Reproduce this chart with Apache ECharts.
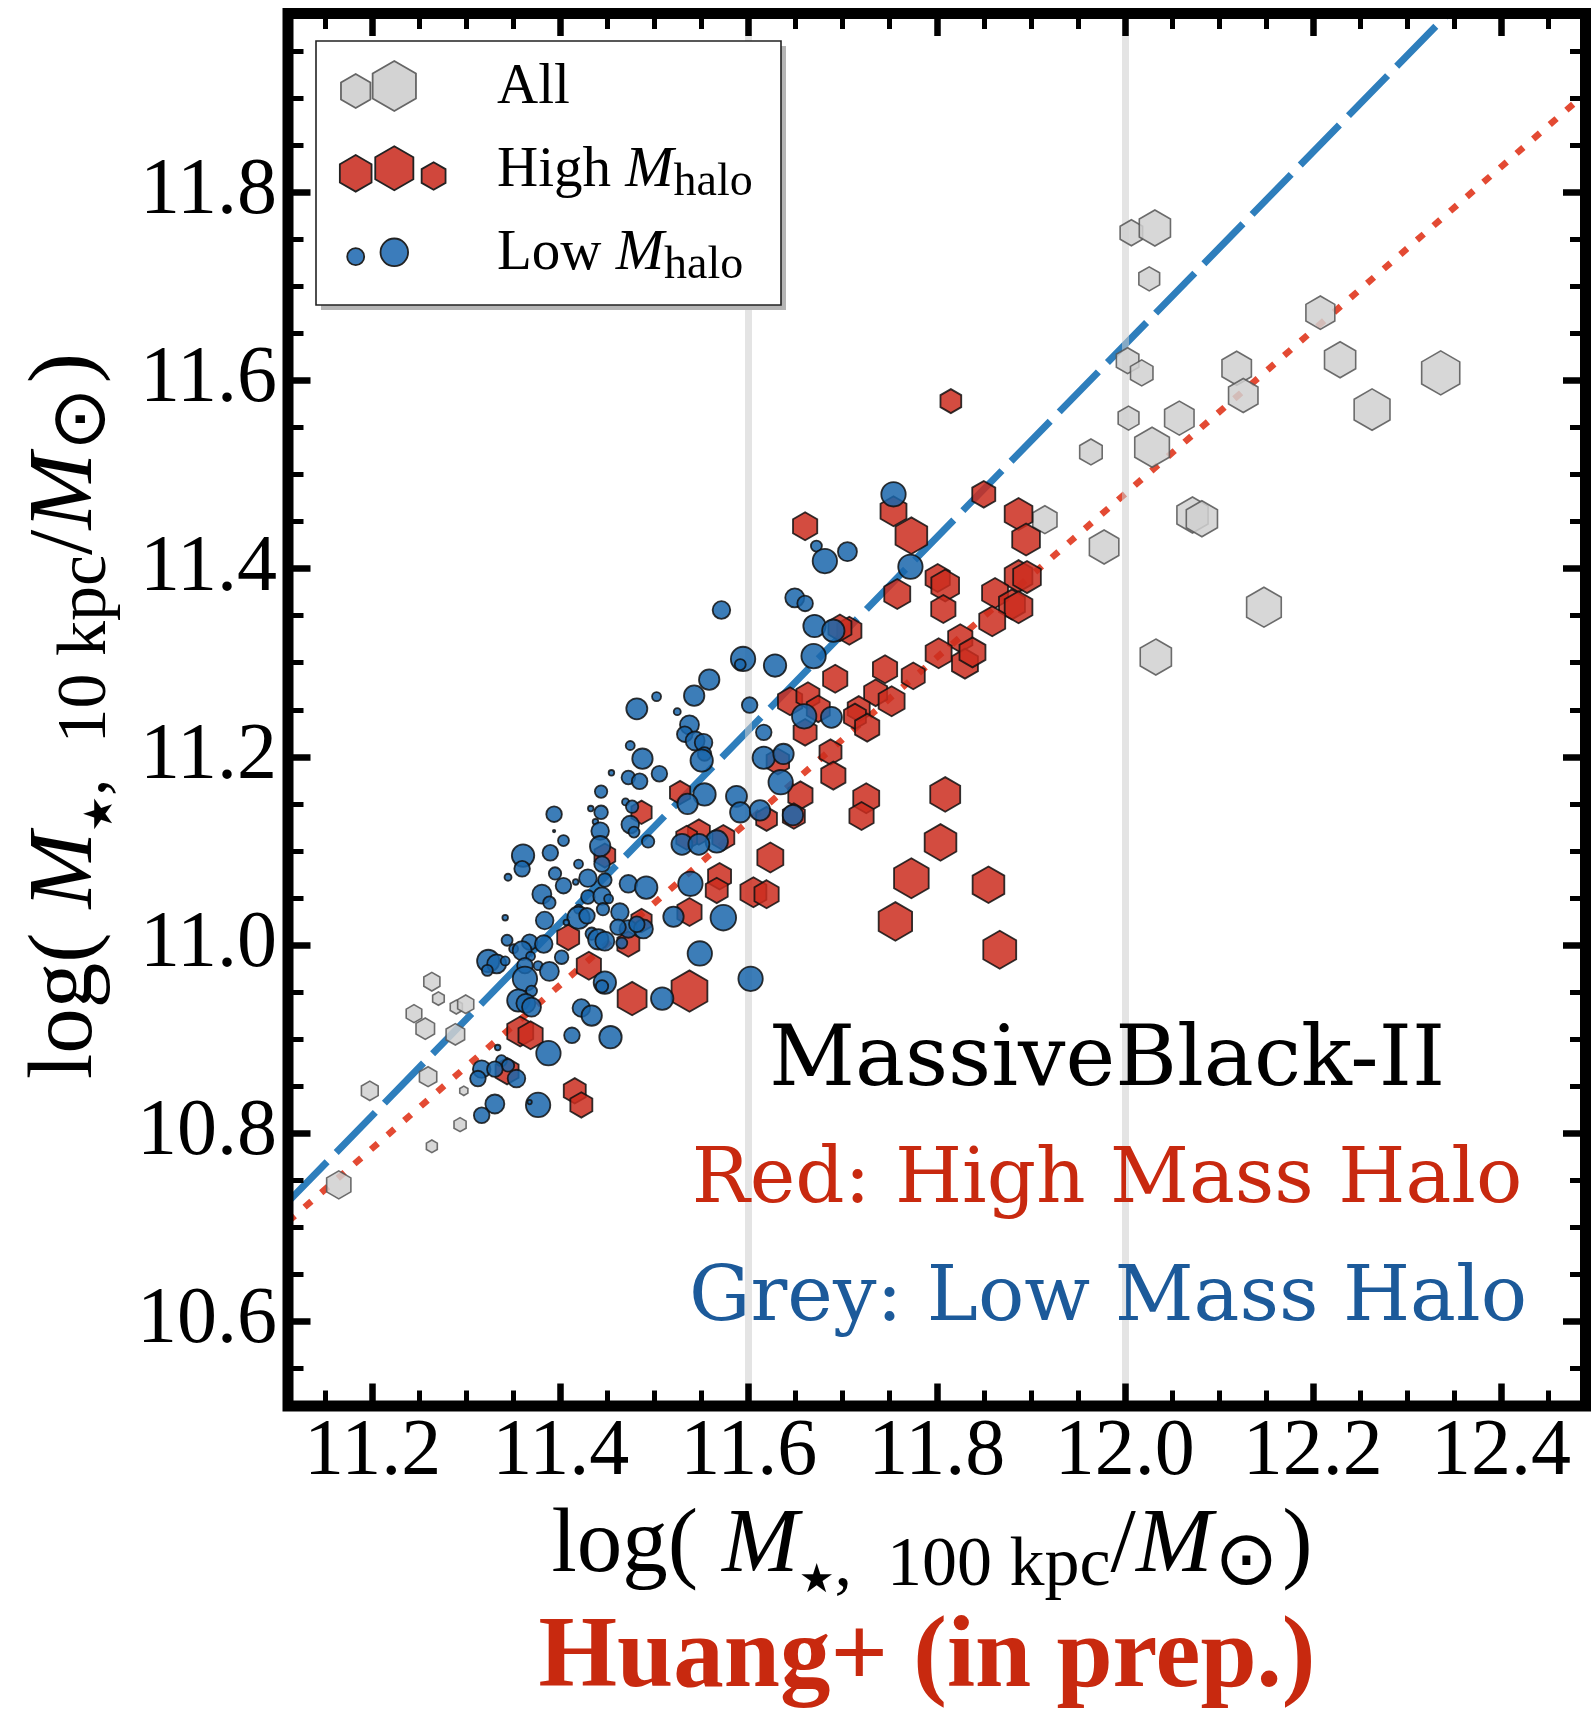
<!DOCTYPE html>
<html>
<head>
<meta charset="utf-8">
<script src="https://cdn.jsdelivr.net/npm/echarts@6/dist/echarts.min.js"></script>
<style>
html, body { margin: 0; padding: 0; background: #fff; }
#chart { width: 1591px; height: 1712px; }
</style>
</head>
<body>
<div id="chart"></div>
<script>
// Axis extents: log M* within 100 kpc (x) and within 10 kpc (y)
const xRange = [11.11, 12.49];
const yRange = [10.51, 11.99];
const gridMarks = [11.6, 12.0];

// Each point: [log M*(100 kpc), log M*(10 kpc), marker scale]
const allPoints = [
  [12.007, 11.757, 13], [12.032, 11.762, 18], [12.026, 11.708, 12], [12.208, 11.672, 16.7],
  [12.229, 11.622, 18], [12.263, 11.569, 20.7], [12.336, 11.608, 22], [12.003, 11.621, 13],
  [12.018, 11.608, 13], [12.119, 11.613, 17], [12.126, 11.584, 17], [12.004, 11.560, 12],
  [12.058, 11.560, 17], [11.964, 11.524, 13], [12.029, 11.529, 20], [11.915, 11.452, 14],
  [12.072, 11.457, 18], [12.082, 11.453, 18], [11.978, 11.423, 17], [12.148, 11.359, 20],
  [12.033, 11.306, 18],
  [11.263, 10.961, 9.3], [11.270, 10.943, 6.7], [11.244, 10.927, 9], [11.256, 10.911, 10.7],
  [11.289, 10.934, 7], [11.299, 10.937, 9.3], [11.288, 10.905, 10.7], [11.259, 10.860, 10],
  [11.197, 10.845, 9.7], [11.297, 10.845, 4.7], [11.293, 10.809, 7], [11.263, 10.786, 6.3],
  [11.164, 10.745, 14]
];

const highHaloPoints = [
  [11.527, 11.162, 11.7], [11.486, 11.141, 11.7], [11.547, 11.120, 12.7], [11.573, 11.114, 12.7],
  [11.534, 11.114, 12], [11.619, 11.134, 12], [11.408, 11.008, 12.7], [11.430, 10.978, 14],
  [11.357, 10.908, 15], [11.368, 10.904, 14], [11.343, 10.866, 13.3], [11.415, 10.845, 12.7],
  [11.422, 10.830, 12.7], [11.447, 11.095, 12], [11.569, 11.073, 13.3], [11.566, 11.058, 12.7],
  [11.537, 11.035, 14], [11.605, 11.056, 15], [11.476, 10.943, 16.7], [11.537, 10.951, 20.7],
  [11.472, 11.001, 12.7], [11.486, 11.026, 11.7], [11.623, 11.093, 15],
  [11.660, 11.445, 14], [11.754, 11.461, 15], [11.773, 11.435, 18.3], [11.850, 11.479, 13.3],
  [11.887, 11.458, 16], [11.895, 11.431, 16], [11.801, 11.390, 14], [11.809, 11.382, 16],
  [11.758, 11.373, 15], [11.807, 11.357, 14], [11.887, 11.392, 16], [11.896, 11.391, 16],
  [11.862, 11.374, 15], [11.880, 11.362, 15], [11.887, 11.359, 16], [11.859, 11.344, 15],
  [11.707, 11.334, 14], [11.697, 11.337, 13.3], [11.825, 11.326, 14], [11.802, 11.310, 15],
  [11.830, 11.299, 15], [11.838, 11.311, 15], [11.745, 11.293, 14], [11.775, 11.286, 13.3],
  [11.692, 11.283, 14], [11.644, 11.259, 14], [11.663, 11.265, 13.3], [11.674, 11.251, 13.3],
  [11.735, 11.268, 13.3], [11.752, 11.259, 15], [11.717, 11.251, 12.7], [11.713, 11.243, 12.7],
  [11.726, 11.231, 14], [11.660, 11.226, 13.3],
  [11.809, 11.160, 17.3], [11.804, 11.109, 18.3], [11.773, 11.071, 20], [11.855, 11.064, 18.3],
  [11.756, 11.025, 19.3], [11.867, 10.995, 19], [11.725, 11.156, 15], [11.720, 11.137, 14],
  [11.687, 11.205, 12.7], [11.690, 11.180, 14], [11.655, 11.159, 14], [11.648, 11.137, 12.7],
  [11.619, 11.054, 14], [11.631, 11.195, 13],
  [11.815, 11.578, 12]
];

const lowHaloPoints = [
  [11.571, 11.356, 9.3], [11.594, 11.304, 12.7], [11.591, 11.298, 6], [11.558, 11.282, 10.7],
  [11.542, 11.265, 10.7], [11.502, 11.264, 5], [11.481, 11.251, 11], [11.524, 11.248, 4],
  [11.601, 11.255, 8.3], [11.537, 11.234, 10], [11.532, 11.224, 8.3], [11.543, 11.217, 10],
  [11.552, 11.215, 9.3], [11.553, 11.203, 7.3], [11.550, 11.196, 11.7], [11.616, 11.226, 8.3],
  [11.616, 11.199, 11.7], [11.474, 11.212, 5], [11.487, 11.198, 10.7], [11.505, 11.182, 8.3],
  [11.454, 11.183, 3.3], [11.472, 11.178, 7.3], [11.484, 11.174, 8.3], [11.553, 11.160, 11.7],
  [11.535, 11.150, 10.7], [11.587, 11.158, 11], [11.591, 11.141, 10.7], [11.612, 11.143, 10.7],
  [11.469, 11.152, 4], [11.476, 11.147, 6.7], [11.474, 11.128, 9.3], [11.478, 11.120, 6],
  [11.493, 11.110, 6.7], [11.529, 11.107, 11], [11.566, 11.110, 11.7], [11.547, 11.107, 11],
  [11.443, 11.163, 6.7], [11.432, 11.145, 3.3], [11.443, 11.141, 7.3], [11.393, 11.139, 8.3],
  [11.437, 11.131, 3.3], [11.393, 11.121, 1.7], [11.442, 11.121, 9.3], [11.403, 11.111, 6],
  [11.442, 11.105, 10.7],
  [11.360, 11.095, 11.7], [11.389, 11.098, 8.3], [11.359, 11.081, 8.3], [11.344, 11.072, 4],
  [11.419, 11.086, 5], [11.394, 11.076, 6.7], [11.403, 11.063, 8.3], [11.416, 11.067, 3.3],
  [11.429, 11.071, 9.3], [11.447, 11.069, 7.3], [11.444, 11.086, 8.3], [11.380, 11.054, 10],
  [11.388, 11.045, 6.7], [11.429, 11.051, 7.3], [11.444, 11.052, 9.3], [11.451, 11.049, 5],
  [11.445, 11.038, 6.7], [11.419, 11.038, 5], [11.419, 11.029, 11.7], [11.428, 11.031, 8.3],
  [11.341, 11.029, 3.3], [11.383, 11.026, 9.3], [11.406, 11.024, 3.3], [11.343, 11.005, 6],
  [11.367, 11.003, 8.3], [11.382, 11.001, 9.3], [11.433, 11.012, 6.7], [11.440, 11.006, 10.7],
  [11.447, 11.004, 10], [11.350, 10.996, 5], [11.359, 10.994, 10], [11.368, 10.988, 5],
  [11.323, 10.983, 11.7], [11.332, 10.980, 10], [11.341, 10.983, 5], [11.322, 10.973, 6],
  [11.401, 10.987, 7.3], [11.362, 10.978, 8.3], [11.376, 10.978, 5], [11.388, 10.972, 10],
  [11.362, 10.964, 12.7], [11.447, 10.960, 11.7], [11.444, 10.956, 6.7], [11.369, 10.951, 6],
  [11.355, 10.941, 11.7], [11.363, 10.938, 10], [11.369, 10.934, 10], [11.422, 10.933, 9.3],
  [11.433, 10.925, 10.7], [11.412, 10.904, 8.3], [11.453, 10.902, 11.7], [11.387, 10.885, 12.7],
  [11.333, 10.891, 3.3], [11.337, 10.877, 6], [11.344, 10.872, 6.7], [11.316, 10.868, 9.3],
  [11.330, 10.868, 8.3], [11.312, 10.858, 8.3], [11.353, 10.858, 9.3], [11.330, 10.831, 10],
  [11.376, 10.830, 12.7], [11.367, 10.833, 2.7], [11.316, 10.819, 8.3],
  [11.472, 11.065, 9.3], [11.491, 11.061, 11.7], [11.538, 11.065, 12.7], [11.520, 11.030, 10.7],
  [11.573, 11.029, 13.3], [11.548, 10.991, 12.7], [11.602, 10.964, 12.7], [11.508, 10.943, 11.7],
  [11.463, 11.035, 9.3], [11.472, 11.017, 9.3], [11.488, 11.017, 10], [11.461, 11.019, 8.3],
  [11.465, 11.002, 6], [11.481, 11.022, 8.3],
  [11.754, 11.479, 12.7], [11.672, 11.424, 6], [11.681, 11.408, 12.7], [11.705, 11.418, 10],
  [11.772, 11.402, 12.7], [11.649, 11.369, 10], [11.660, 11.363, 8.3], [11.670, 11.339, 11.7],
  [11.690, 11.334, 11.7], [11.669, 11.307, 12.7], [11.628, 11.297, 11.7], [11.659, 11.243, 12.7],
  [11.688, 11.242, 11],
  [11.637, 11.203, 10.7], [11.634, 11.173, 12.7], [11.647, 11.138, 10.7]
];

// Best-fit relations, one per halo-mass group
const blueFit = [[11.11, 10.727], [12.344, 11.99]];
const redFit = [[11.11, 10.706], [12.49, 11.905]];

const HEX = 'path://M0,-100L86.6,-50L86.6,50L0,100L-86.6,50L-86.6,-50Z';
const SERIF = '"Liberation Serif", "DejaVu Serif", serif';
const SANS_SYM = '"DejaVu Sans", "Noto Sans", sans-serif';
const RED_TEXT = '#c8290f';
const BLUE_TEXT = '#1c5a9a';

// rich-text styles for the axis titles
function titleRich() {
  const k = { fill: '#000', color: '#000' };
  return {
    n: Object.assign({ fontFamily: SERIF, fontSize: 91, lineHeight: 110 }, k),
    m: Object.assign({ fontFamily: SERIF, fontStyle: 'italic', fontSize: 92, lineHeight: 110 }, k),
    m1: Object.assign({ fontFamily: SERIF, fontStyle: 'italic', fontSize: 92, lineHeight: 110, padding: [0, 0, 0, 24] }, k),
    st: Object.assign({ fontFamily: SANS_SYM, fontSize: 40, lineHeight: 50, verticalAlign: 'bottom' }, k),
    s: Object.assign({ fontFamily: SERIF, fontSize: 70, lineHeight: 62, verticalAlign: 'bottom' }, k),
    sun: Object.assign({ fontFamily: SANS_SYM, fontSize: 76, lineHeight: 58, verticalAlign: 'bottom', padding: [0, 4, 0, 2] }, k)
  };
}

function legendRich() {
  const k = { fill: '#000', color: '#000' };
  return {
    n: Object.assign({ fontFamily: SERIF, fontSize: 57, lineHeight: 70 }, k),
    m: Object.assign({ fontFamily: SERIF, fontStyle: 'italic', fontSize: 58, lineHeight: 70 }, k),
    s: Object.assign({ fontFamily: SERIF, fontSize: 46, lineHeight: 48, verticalAlign: 'bottom' }, k)
  };
}

function hexPoints(cx, cy, r) {
  const pts = [];
  for (let i = 0; i < 6; i++) {
    const a = Math.PI / 2 + i * Math.PI / 3;
    pts.push([cx + r * Math.cos(a), cy - r * Math.sin(a)]);
  }
  return pts;
}

// legend panel
const legendBox = { x: 316, y: 41, w: 465, h: 264 };
const legendKeys = [
  { kind: 'hex', fill: '#d3d3d3', stroke: '#666', items: [[355.7, 91, 17], [394.3, 86, 25]] },
  { kind: 'hex', fill: '#d0473c', stroke: '#222', items: [[355.7, 173.3, 18.3], [394.3, 168.3, 22], [433.6, 176, 13.8]] },
  { kind: 'circle', fill: '#3b7cbb', stroke: '#222', items: [[355.7, 256.7, 8.5], [394.3, 252.3, 13.8]] }
];
const legendLabels = [
  { text: '{n|All}', y: 88 },
  { text: '{n|High }{m|M}{s|halo}', y: 171 },
  { text: '{n|Low }{m|M}{s|halo}', y: 254 }
];

const graphics = [];
graphics.push({
  type: 'rect', z: 100,
  shape: { x: legendBox.x + 5, y: legendBox.y + 5, width: legendBox.w, height: legendBox.h },
  style: { fill: '#b5b5b5' }
});
graphics.push({
  type: 'rect', z: 101,
  shape: { x: legendBox.x, y: legendBox.y, width: legendBox.w, height: legendBox.h },
  style: { fill: '#fff', stroke: '#222', lineWidth: 1.6 }
});
legendKeys.forEach(k => {
  k.items.forEach(([cx, cy, r]) => {
    if (k.kind === 'hex') {
      graphics.push({ type: 'polygon', z: 102, shape: { points: hexPoints(cx, cy, r) },
        style: { fill: k.fill, stroke: k.stroke, lineWidth: 1.8 } });
    } else {
      graphics.push({ type: 'circle', z: 102, shape: { cx: cx, cy: cy, r: r },
        style: { fill: k.fill, stroke: k.stroke, lineWidth: 1.8 } });
    }
  });
});
legendLabels.forEach(l => {
  graphics.push({ type: 'text', z: 102, x: 497, y: l.y,
    style: { text: l.text, rich: legendRich(), align: 'left', verticalAlign: 'middle' } });
});

// axis titles
graphics.push({
  type: 'text', z: 50, x: 932, y: 1547,
  style: { text: '{n|log(}{m1|M}{st|★}{s|,  100 kpc}{n|/}{m|M}{sun|⊙}{n|)}',
    rich: titleRich(), align: 'center', verticalAlign: 'middle' }
});
graphics.push({
  type: 'text', z: 50, x: 67, y: 716, rotation: Math.PI / 2,
  style: { text: '{n|log(}{m1|M}{st|★}{s|,  10 kpc}{n|/}{m|M}{sun|⊙}{n|)}',
    rich: titleRich(), align: 'center', verticalAlign: 'middle' }
});

// annotations inside the panel
graphics.push({ type: 'text', z: 50, x: 1107, y: 1063,
  style: { text: 'MassiveBlack-II', fill: '#000', fontFamily: '"DejaVu Serif", serif', fontSize: 84,
    align: 'center', verticalAlign: 'middle' } });
graphics.push({ type: 'text', z: 50, x: 1107, y: 1182,
  style: { text: 'Red: High Mass Halo', fill: RED_TEXT, fontFamily: '"DejaVu Serif", serif', fontSize: 77,
    align: 'center', verticalAlign: 'middle' } });
graphics.push({ type: 'text', z: 50, x: 1108, y: 1300,
  style: { text: 'Grey: Low Mass Halo', fill: BLUE_TEXT, fontFamily: '"DejaVu Serif", serif', fontSize: 77,
    align: 'center', verticalAlign: 'middle' } });
graphics.push({ type: 'text', z: 50, x: 927, y: 1660,
  style: { text: 'Huang+ (in prep.)', fill: RED_TEXT, fontFamily: SERIF, fontWeight: 'bold', fontSize: 101,
    align: 'center', verticalAlign: 'middle' } });

// plot frame
const grid = { left: 288, top: 13.5, right: 5.5, bottom: 306 };
graphics.push({
  type: 'rect', z: 200,
  shape: { x: grid.left, y: grid.top, width: 1591 - grid.left - grid.right, height: 1712 - grid.top - grid.bottom },
  style: { fill: 'none', stroke: '#000', lineWidth: 11, lineJoin: 'miter' }
});

function valueAxis(range, position, showLabels) {
  return {
    type: 'value', position: position, min: range[0], max: range[1], z: 10,
    splitNumber: 7, minInterval: 0.2, maxInterval: 0.2,
    axisLine: { show: false },
    axisTick: { show: true, inside: true, length: 22.5, lineStyle: { color: '#000', width: 6.5 } },
    minorTick: { show: true, splitNumber: 4, length: 15.5, lineStyle: { color: '#000', width: 5 } },
    splitLine: { show: false }, minorSplitLine: { show: false },
    axisLabel: { show: showLabels, color: '#000', fontFamily: SERIF, fontSize: 80,
      margin: position === 'bottom' ? 7 : 11, showMinLabel: false, showMaxLabel: false,
      formatter: v => v.toFixed(1) }
  };
}

const chart = echarts.init(document.getElementById('chart'), null, { renderer: 'canvas' });
chart.setOption({
  animation: false,
  backgroundColor: '#fff',
  grid: Object.assign({ containLabel: false, outerBoundsMode: 'none' }, grid),
  xAxis: [valueAxis(xRange, 'bottom', true), valueAxis(xRange, 'top', false)],
  yAxis: [valueAxis(yRange, 'left', true), valueAxis(yRange, 'right', false)],
  graphic: graphics,
  series: [
    { type: 'line', data: blueFit, symbol: 'none', silent: true, z: 1,
      lineStyle: { color: '#2e7ebc', width: 7, type: [56, 13], cap: 'butt' } },
    { type: 'line', data: redFit, symbol: 'none', silent: true, z: 1,
      lineStyle: { color: '#e34a33', width: 6.5, type: [9, 13], cap: 'butt' } },
    { type: 'line', data: [], symbol: 'none', silent: true, z: 2,
      markLine: { silent: true, symbol: 'none', z: 2, label: { show: false },
        lineStyle: { color: 'rgba(205,205,205,0.55)', width: 7, type: 'solid' },
        data: gridMarks.map(v => ({ xAxis: v })) } },
    { type: 'scatter', name: 'All', data: allPoints, z: 3, symbol: HEX, symbolKeepAspect: true,
      symbolSize: v => 2 * v[2],
      itemStyle: { color: '#d0d0d0', borderColor: '#555', borderWidth: 1.6, opacity: 0.85 } },
    { type: 'scatter', name: 'High', data: highHaloPoints, z: 4, symbol: HEX, symbolKeepAspect: true,
      symbolSize: v => 2 * v[2],
      itemStyle: { color: '#cb2d1e', borderColor: '#111', borderWidth: 1.8, opacity: 0.85 } },
    { type: 'scatter', name: 'Low', data: lowHaloPoints, z: 5, symbol: 'circle',
      symbolSize: v => 2 * v[2] - 1,
      itemStyle: { color: '#1a66ac', borderColor: '#111', borderWidth: 1.8, opacity: 0.85 } }
  ]
});
</script>
</body>
</html>
